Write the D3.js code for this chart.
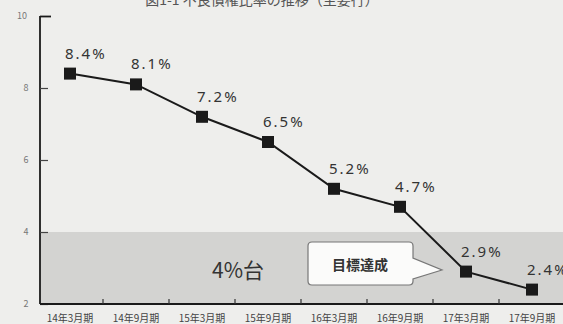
<!DOCTYPE html>
<html>
<head>
<meta charset="utf-8">
<script src="https://cdn.jsdelivr.net/npm/d3@7"></script>
<style>
body { margin: 0; background: #eeeeec; }
svg { display: block; }
</style>
</head>
<body>
<div id="chart"></div>
<script>
// 主要行の不良債権比率
var periods = ["14年3月期", "14年9月期", "15年3月期", "15年9月期", "16年3月期", "16年9月期", "17年3月期", "17年9月期"];
var ratios = [8.4, 8.1, 7.2, 6.5, 5.2, 4.7, 2.9, 2.4];
var yTicks = [2, 4, 6, 8, 10];
var bandValue = 4;

var w = 563, h = 324;
var margin = { top: 16, right: 0, bottom: 20, left: 40 };

var svg = d3.select('#chart').append('svg')
	.attr('width', w)
	.attr('height', h)
	.style('font-family', '"Noto Sans CJK JP", "Noto Sans", sans-serif');

svg.append('rect').attr('width', w).attr('height', h).attr('fill', '#eeeeec');

var x = d3.scaleBand()
	.domain(periods)
	.range([37, 565])
	.padding(0);

var y = d3.scaleLinear()
	.domain([2, 10])
	.range([h - margin.bottom, margin.top]);

// 4%台 band
svg.append('rect')
	.attr('x', margin.left)
	.attr('y', y(bandValue))
	.attr('width', w - margin.left)
	.attr('height', y(2) - y(bandValue))
	.attr('fill', '#d3d3d1');

// title (cut off at top in the source)
svg.append('text')
	.attr('x', 262)
	.attr('y', 5)
	.attr('text-anchor', 'middle')
	.attr('font-size', 14)
	.attr('fill', '#555')
	.text('図1-1 不良債権比率の推移（主要行）');

// Y axis
var yAxis = svg.append('g')
	.attr('transform', 'translate(' + margin.left + ',0)')
	.call(d3.axisRight(y).tickValues(yTicks).tickSize(8).tickFormat(''));
yAxis.select('.domain').attr('stroke', '#1a1a1a').attr('stroke-width', 1.8).attr('d', 'M0,' + y(10) + 'V' + y(2));
yAxis.selectAll('.tick line').attr('stroke', '#444').attr('stroke-width', 1.2);
yAxis.select('.tick:last-of-type line').attr('x2', 11).attr('stroke', '#1a1a1a').attr('stroke-width', 1.8);

svg.append('g').selectAll('text')
	.data(yTicks)
	.enter().append('text')
	.attr('x', function (d) { return d == 10 ? 22 : 26; })
	.attr('y', function (d) { return y(d) + 3; })
	.attr('text-anchor', 'middle')
	.attr('font-size', 9)
	.attr('fill', '#777')
	.text(function (d) { return d; });

// X axis
var xAxis = svg.append('g')
	.attr('transform', 'translate(0,' + y(2) + ')')
	.call(d3.axisTop(x).tickSize(0).tickFormat(''));
xAxis.select('.domain').attr('stroke', '#1a1a1a').attr('stroke-width', 1.8).attr('d', 'M' + margin.left + ',0H' + w);

svg.append('g').selectAll('line')
	.data(periods.slice(1))
	.enter().append('line')
	.attr('x1', function (d) { return x(d); })
	.attr('x2', function (d) { return x(d); })
	.attr('y1', y(2))
	.attr('y2', y(2) - 5)
	.attr('stroke', '#333')
	.attr('stroke-width', 1.2);

svg.append('g').selectAll('text')
	.data(periods)
	.enter().append('text')
	.attr('x', function (d) { return x(d) + x.bandwidth() / 2; })
	.attr('y', 322)
	.attr('text-anchor', 'middle')
	.attr('font-size', 10)
	.attr('fill', '#444')
	.text(function (d) { return d; });

// line
var line = d3.line()
	.x(function (d, i) { return x(periods[i]) + x.bandwidth() / 2; })
	.y(function (d) { return y(d); });

svg.append('path')
	.datum(ratios)
	.attr('d', line)
	.attr('fill', 'none')
	.attr('stroke', '#1a1a1a')
	.attr('stroke-width', 2);

svg.append('g').selectAll('rect')
	.data(ratios)
	.enter().append('rect')
	.attr('x', function (d, i) { return x(periods[i]) + x.bandwidth() / 2 - 6; })
	.attr('y', function (d) { return y(d) - 6; })
	.attr('width', 12)
	.attr('height', 12)
	.attr('fill', '#1a1a1a');

svg.append('g').selectAll('text')
	.data(ratios)
	.enter().append('text')
	.attr('x', function (d, i) { return x(periods[i]) + x.bandwidth() / 2 - 5; })
	.attr('y', function (d) { return y(d) - 15; })
	.attr('font-size', 15)
	.attr('letter-spacing', 2)
	.attr('fill', '#333')
	.style('font-family', '"Noto Sans", sans-serif')
	.text(function (d) { return d.toFixed(1) + '%'; });

// 4%台 label
svg.append('text')
	.attr('x', 212)
	.attr('y', 278)
	.attr('font-size', 21)
	.attr('fill', '#333')
	.text('4%台');

// callout
svg.append('path')
	.attr('d', 'M312,242 H409 Q413,242 413,246 V258 L442,270 L413,279 V281 Q413,285 409,285 H312 Q308,285 308,281 V246 Q308,242 312,242 Z')
	.attr('fill', '#fbfbfa')
	.attr('stroke', '#777')
	.attr('stroke-width', 1.2);

svg.append('text')
	.attr('x', 360)
	.attr('y', 270)
	.attr('text-anchor', 'middle')
	.attr('font-size', 14)
	.attr('font-weight', 'bold')
	.attr('fill', '#333')
	.text('目標達成');
</script>
</body>
</html>
